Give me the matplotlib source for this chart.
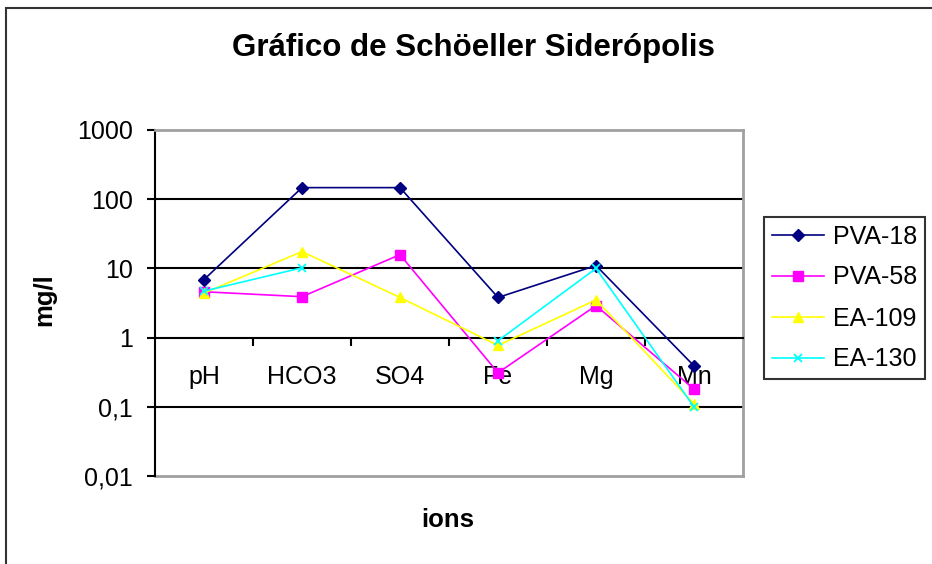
import matplotlib
matplotlib.use("Agg")
import matplotlib.pyplot as plt
import numpy as np
from matplotlib.patches import Rectangle
from matplotlib.ticker import FixedLocator, FixedFormatter

plt.rcParams['font.family'] = ['Liberation Sans', 'DejaVu Sans']

categories = ["pH", "HCO3", "SO4", "Fe", "Mg", "Mn"]
pva18 = [6.9, 147, 147, 3.8, 11, 0.39]
pva58 = [4.6, 3.9, 15.8, 0.31, 2.9, 0.18]
ea109 = [4.4, 17.5, 3.8, 0.77, 3.5, 0.11]
ea130 = [4.7, 10.2, np.nan, 0.9, 10, 0.1]
series_names = ["PVA-18", "PVA-58", "EA-109", "EA-130"]
ytick_vals = [0.01, 0.1, 1, 10, 100, 1000]
ytick_labels = ["0,01", "0,1", "1", "10", "100", "1000"]

fig = plt.figure(figsize=(9.32, 5.64), dpi=100)
ax = fig.add_axes([155/932, 1-476/564, (743-155)/932, (476-130)/564])

x = np.arange(len(categories))
styles = [
    dict(color="#000080", marker="D", markersize=6),
    dict(color="#ff00ff", marker="s", markersize=6.5),
    dict(color="#ffff00", marker="^", markersize=7.5),
    dict(color="#00ffff", marker="x", markersize=6, markeredgewidth=1.3),
]
for vals, name, st in zip([pva18, pva58, ea109, ea130], series_names, styles):
    ax.plot(x, vals, lw=1.2, label=name, zorder=3, **st)

ax.set_yscale("log")
ax.set_ylim(0.01, 1000)
ax.set_xlim(-0.5, len(categories) - 0.5)

for v in [10, 100, 0.1]:
    ax.axhline(v, color="black", lw=1.5, zorder=1)
ax.axhline(0.01, color="#a0a0a0", lw=2, zorder=1, clip_on=False)

ax.spines["top"].set_color("#a0a0a0")
ax.spines["right"].set_color("#a0a0a0")
ax.spines["top"].set_linewidth(2)
ax.spines["right"].set_linewidth(2)
ax.spines["left"].set_color("black")
ax.spines["left"].set_linewidth(1.5)
ax.spines["bottom"].set_position(("data", 1))
ax.spines["bottom"].set_color("black")
ax.spines["bottom"].set_linewidth(1.5)

ax.yaxis.set_major_locator(FixedLocator(ytick_vals))
ax.yaxis.set_major_formatter(FixedFormatter(ytick_labels))
ax.yaxis.set_minor_locator(FixedLocator([]))
ax.tick_params(axis="y", which="major", direction="out", length=6, width=1.5,
               pad=10, labelsize=18, colors="black")

ax.set_xticks(x)
ax.set_xticklabels(categories)
ax.set_xticks(x[:-1] + 0.5, minor=True)
ax.tick_params(axis="x", which="major", length=0, pad=20, labelsize=18)
ax.tick_params(axis="x", which="minor", direction="out", length=6, width=1.5)

fig.text(473/932, 1-48/564, "Gráfico de Schöeller Siderópolis", ha="center",
         va="center", fontsize=22.5, fontweight="bold")
fig.text(44/932, 1-300/564, "mg/l", rotation=90, ha="center", va="center",
         fontsize=18.5, fontweight="bold")
fig.text(448/932, 1-520/564, "ions", ha="center", va="center",
         fontsize=18.5, fontweight="bold")

leg = fig.legend(loc="upper left", bbox_to_anchor=(764/932, 1-217/564),
                 frameon=True, fancybox=False, edgecolor="black", fontsize=18,
                 handlelength=2.1, handletextpad=0.35, borderpad=0.3,
                 labelspacing=0.68, borderaxespad=0)
leg.get_frame().set_linewidth(1.5)

fig.patches.append(Rectangle((6/932, -0.1), 1.2, 1.1 - 8/564, transform=fig.transFigure,
                             fill=False, edgecolor="#333333", lw=1.5))

fig.savefig("out.png", dpi=100)
